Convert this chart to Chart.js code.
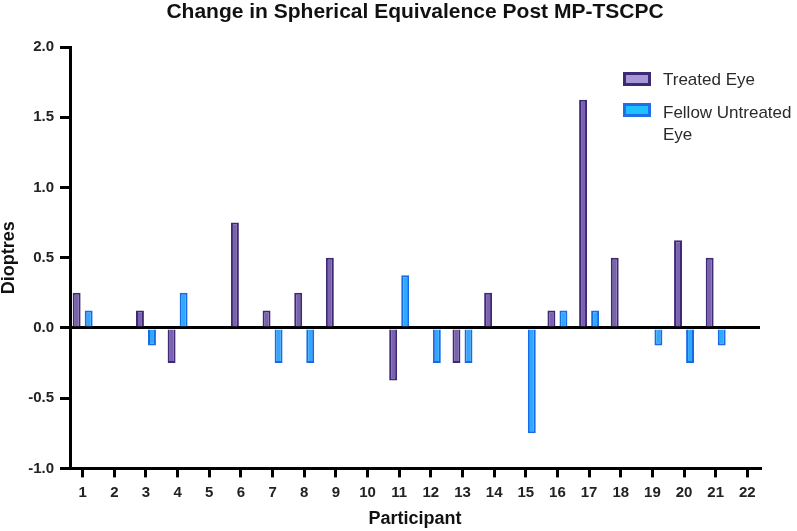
<!DOCTYPE html>
<html lang="en">
<head>
    <meta charset="UTF-8">
    <title>Change in Spherical Equivalence</title>
    <style>
        body {
            margin: 0;
            padding: 0;
            background-color: #fff;
            font-family: "Liberation Sans", Arial, sans-serif;
        }
        .wrap {
            position: relative;
            width: 797px;
            height: 531px;
        }
        .legend-box {
            position: absolute;
            left: 623px;
            width: 22px;
            height: 8px;
            border: 3px solid;
        }
        .legend-txt {
            position: absolute;
            left: 663px;
            font-size: 17px;
            line-height: 22px;
            color: #2a2a2a;
            white-space: nowrap;
        }
    </style>
    <script src="https://cdn.jsdelivr.net/npm/chart.js"></script>
</head>
<body>
<div class="wrap">
    <canvas id="seChart" width="797" height="531"></canvas>
    <div class="legend-box" style="top:72px;background:#a797d6;border-color:#3e2a72"></div>
    <div class="legend-txt" style="top:69px">Treated Eye</div>
    <div class="legend-box" style="top:103px;background:#1ec0ff;border-color:#1f6fe8"></div>
    <div class="legend-txt" style="top:102px">Fellow Untreated<br>Eye</div>
</div>
<script>
    const participants = [1, 2, 3, 4, 5, 6, 7, 8, 9, 10, 11, 12, 13, 14, 15, 16, 17, 18, 19, 20, 21, 22];
    const treatedEye = [0.25, null, 0.125, -0.25, null, 0.75, 0.125, 0.25, 0.5, null, -0.375, null, -0.25, 0.25, null, 0.125, 1.625, 0.5, null, 0.625, 0.5, null];
    const fellowEye = [0.125, null, -0.125, 0.25, null, null, -0.25, -0.25, null, null, 0.375, -0.25, -0.25, null, -0.75, 0.125, 0.125, null, -0.125, -0.25, -0.125, null];
    const yTicks = [-1.0, -0.5, 0.0, 0.5, 1.0, 1.5, 2.0];

    const FONT = '"Liberation Sans", Arial, sans-serif';
    const tickFont = { family: FONT, size: 15, weight: 'bold' };
    const toPoints = vals => participants.map((p, i) => ({ x: p, y: vals[i] }));

    new Chart(document.getElementById('seChart'), {
        type: 'bar',
        data: {
            datasets: [{
                label: 'Treated Eye',
                data: toPoints(treatedEye),
                backgroundColor: '#7a62b0',
                borderColor: '#3e2a72',
                borderWidth: 2,
                categoryPercentage: 0.76,
                barPercentage: 0.66
            }, {
                label: 'Fellow Untreated Eye',
                data: toPoints(fellowEye),
                backgroundColor: '#2fa8ff',
                borderColor: '#1a6ae6',
                borderWidth: 2,
                categoryPercentage: 0.76,
                barPercentage: 0.66
            }]
        },
        options: {
            responsive: false,
            animation: false,
            layout: { padding: { left: 0, right: 37, top: 0, bottom: 1 } },
            plugins: {
                legend: { display: false },
                tooltip: { enabled: false },
                title: {
                    display: true,
                    fullSize: false,
                    text: 'Change in Spherical Equivalence Post MP-TSCPC',
                    color: '#111',
                    font: { family: FONT, size: 21, weight: 'bold', lineHeight: 1.2 },
                    padding: { top: 0, bottom: 21.8 }
                }
            },
            scales: {
                x: {
                    type: 'linear',
                    min: 0.6,
                    max: 22.4,
                    offset: false,
                    afterBuildTicks: scale => { scale.ticks = participants.map(v => ({ value: v })); },
                    grid: {
                        offset: false,
                        drawOnChartArea: false,
                        color: '#000',
                        lineWidth: 3,
                        tickLength: 9
                    },
                    border: { color: '#000', width: 3 },
                    ticks: { color: '#222', font: tickFont, padding: 6, maxRotation: 0, autoSkip: false },
                    title: {
                        display: true,
                        text: 'Participant',
                        color: '#111',
                        font: { family: FONT, size: 18, weight: 'bold' },
                        padding: { top: 1, bottom: 0 }
                    }
                },
                y: {
                    min: -1,
                    max: 2,
                    afterBuildTicks: scale => { scale.ticks = yTicks.map(v => ({ value: v })); },
                    afterFit: scale => { scale.width = 70; },
                    grid: {
                        color: ctx => (ctx.tick && ctx.tick.value === 0) ? '#000' : 'rgba(0,0,0,0)',
                        tickColor: '#000',
                        lineWidth: 3,
                        tickLength: 10
                    },
                    border: { color: '#000', width: 3 },
                    ticks: {
                        color: '#222',
                        font: tickFont,
                        padding: 6,
                        callback: v => v.toFixed(1)
                    },
                    title: {
                        display: true,
                        text: 'Dioptres',
                        color: '#111',
                        font: { family: FONT, size: 18, weight: 'bold', lineHeight: 1.0 },
                        padding: { top: 0, bottom: 0 }
                    }
                }
            }
        }
    });
</script>
</body>
</html>
